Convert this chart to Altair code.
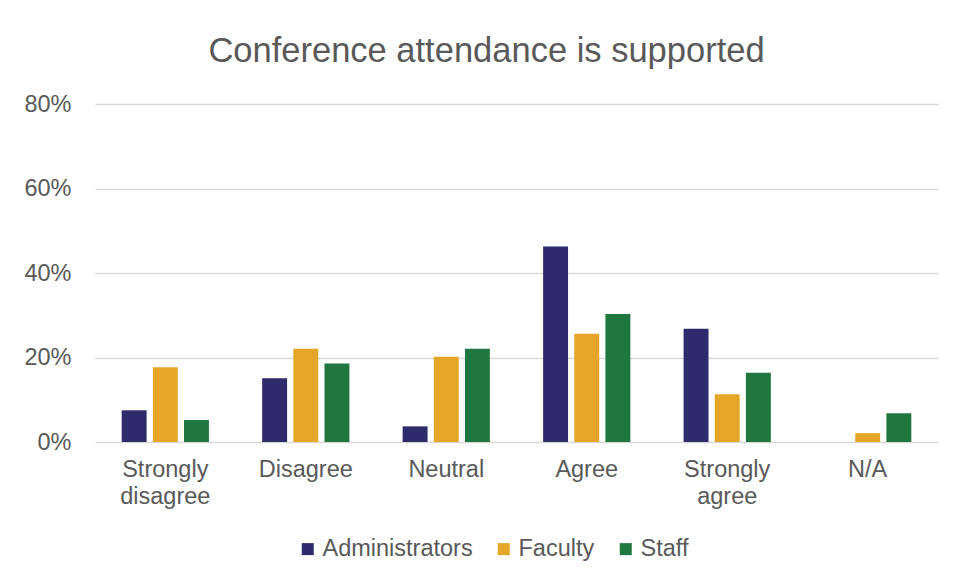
import altair as alt
import pandas as pd

categories = ["Strongly disagree", "Disagree", "Neutral", "Agree", "Strongly agree", "N/A"]
groups = ["Administrators", "Faculty", "Staff"]
administrators = [0.075, 0.151, 0.037, 0.463, 0.268, 0.0]
faculty = [0.177, 0.221, 0.202, 0.256, 0.113, 0.021]
staff = [0.052, 0.186, 0.221, 0.303, 0.164, 0.068]
colors = ["#2E2A6C", "#E5A527", "#1F773F"]
y_ticks = [0, 0.2, 0.4, 0.6, 0.8]

rows = []
for g, vals in zip(groups, [administrators, faculty, staff]):
    for c, v in zip(categories, vals):
        rows.append({"category": c, "group": g, "value": v})
df = pd.DataFrame(rows)

FONT = "Liberation Sans"
TXT = "#595959"

chart = alt.Chart(df).mark_bar().encode(
    x=alt.X(
        "category:N",
        sort=categories,
        scale=alt.Scale(paddingInner=0.379, paddingOuter=0.19),
        axis=alt.Axis(
            title=None,
            labelAngle=0,
            labelExpr="split(datum.label, ' ')",
            labelFontSize=23.5,
            labelFont=FONT,
            labelColor=TXT,
            labelPadding=15,
            labelLineHeight=27,
            domain=False,
            ticks=False,
        ),
    ),
    xOffset=alt.XOffset("group:N", sort=groups, scale=alt.Scale(paddingInner=0.2, paddingOuter=0)),
    y=alt.Y(
        "value:Q",
        scale=alt.Scale(domain=[0, 0.8]),
        axis=alt.Axis(
            title=None,
            values=y_ticks,
            format=".0%",
            labelFontSize=23.5,
            labelFont=FONT,
            labelColor=TXT,
            labelPadding=24,
            domain=False,
            ticks=False,
            gridColor="#d9d9d9",
            gridWidth=1.5,
        ),
    ),
    color=alt.Color(
        "group:N",
        sort=groups,
        scale=alt.Scale(domain=groups, range=colors),
        legend=alt.Legend(
            title=None,
            orient="none",
            direction="horizontal",
            legendX=201,
            legendY=433,
            symbolType="square",
            symbolSize=144,
            symbolStrokeWidth=0,
            labelFontSize=23.5,
            labelFont=FONT,
            labelColor=TXT,
            labelOffset=3,
            columnPadding=19,
        ),
    ),
).properties(
    width=843,
    height=338,
    title=alt.Title(
        "Conference attendance is supported",
        fontSize=34.5,
        font=FONT,
        color=TXT,
        fontWeight="normal",
        anchor="middle",
        baseline="alphabetic",
        offset=45,
        dx=-30,
        dy=49,
    ),
    autosize=alt.AutoSizeParams(type="none"),
    padding={"left": 87, "top": 96, "right": 8, "bottom": 125},
).configure_view(stroke="transparent")

chart.save("out.html", embed_options={"renderer": "svg", "actions": False})
